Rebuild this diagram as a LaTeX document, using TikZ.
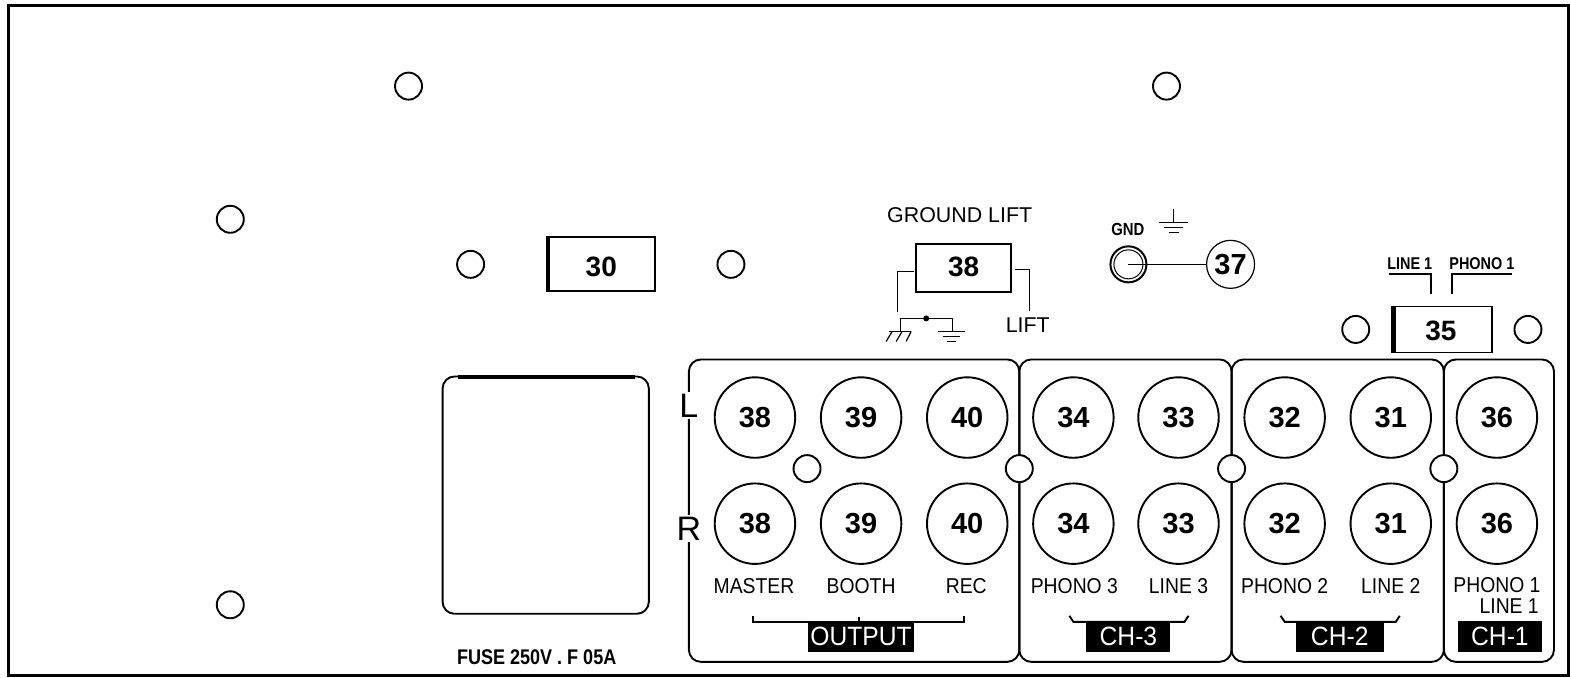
\documentclass[tikz,border=0pt]{standalone}
\usepackage{fontspec}
\usetikzlibrary{calc}
\setmainfont{Liberation Sans}
\newfontfamily\narrowf[FakeStretch=0.9]{Liberation Sans}
\newfontfamily\narrowt[FakeStretch=0.93]{Liberation Sans}
\newfontfamily\narrowb[FakeStretch=0.85]{Liberation Sans Bold}
\newcommand{\nmdown}[2]{\raisebox{0pt}[\dimexpr\height+#1\relax][0pt]{#2}}
\newcommand{\nmup}[2]{\raisebox{0pt}[\height][#1]{#2}}
\begin{document}
\begin{tikzpicture}[x=1.0013pt,y=-1.0013pt,
  ln/.style={draw=black,line width=1.9pt},
  wire/.style={draw=black,line width=1.2pt},
  hole/.style={circle,draw=black,line width=1.9pt,fill=white,minimum size=27pt,inner sep=0pt},
  conn/.style={circle,draw=black,line width=1.9pt,fill=white,minimum size=80.5pt,inner sep=0pt,font=\fontsize{29}{29}\selectfont\bfseries},
  numbox/.style={rectangle,draw=black,line width=1.8pt,fill=white,inner sep=0pt,font=\fontsize{28}{28}\selectfont\bfseries},
  panel/.style={draw=black,line width=1.9pt,rounded corners=12pt},
  small/.style={font=\fontsize{21.5}{21.5}\narrowf,inner sep=0pt},
  inv/.style={fill=black,text=white,font=\fontsize{26.5}{26.5}\narrowt,inner sep=0pt},
  plain/.style={font=\fontsize{21.4}{21.4}\selectfont,inner sep=0pt},
  side/.style={font=\fontsize{34}{34}\selectfont,inner sep=2pt,fill=white},
  thickedge/.style={draw=black,line width=4.5pt}]
\useasboundingbox (0,0) rectangle (1568,677);
\fill[white] (0,0) rectangle (1568,677);
\draw[draw=black,line width=3pt] (8,5) rectangle (1566,675);

% panels
\draw[panel] (688,359) rectangle (1018,661);
\draw[panel] (1018,359) rectangle (1230,661);
\draw[panel] (1230,359) rectangle (1442,661);
\draw[panel] (1442,359) rectangle (1552,661);

% fuse holder
\draw[panel] (442,376) rectangle (648,613);
\draw[draw=black,line width=3.5pt] (457,376.5) -- (634,376.5);

% holes
\foreach \n/\x/\y in {a/408/86,b/1165/86,c/230/219,d/470/264,e/730/264,f/230/604,g/806/468,h/1018/468,i/1230/468,j/1442/468,k/1354/329,l/1526/329}
  \node[hole] (hole\n) at (\x,\y) {};

% connectors
\foreach \x/\lab in {754/38,860/39,966/40,1072/34,1177/33,1283/32,1389/31,1495/36}{
  \node[conn] (L\lab) at (\x,417) {\lab};
  \node[conn] (R\lab) at (\x,523) {\lab};
}

% boxes
\node[numbox,minimum width=107pt,minimum height=54pt] (b30) at (600.5,264) {\nmdown{4pt}{30}};
\draw[thickedge] ($(b30.north west)+(1,0)$) -- ($(b30.south west)+(1,0)$);
\node[numbox,minimum width=95pt,minimum height=48pt] (b38) at (962.5,268) {\nmup{3pt}{38}};
\node[numbox,minimum width=99pt,minimum height=46pt] (b35) at (1441,329) {\nmdown{2pt}{35}\kern4pt};
\draw[thickedge] ($(b35.north west)+(1,0)$) -- ($(b35.south west)+(1,0)$);

% ground lift
\node[plain] (gl) at (958.5,215) {GROUND LIFT};
\node[plain] (lift) at (1026.5,325) {LIFT};
\coordinate (wl1) at (913,271);
\coordinate (wl2) at (896,312);
\coordinate (wr1) at (1014,269);
\coordinate (wr2) at (1028,311);
\draw[wire] (wl1) -| (wl2);
\draw[wire] (wr1) -| (wr2);
\coordinate (gdot) at (925,318);
\coordinate (gc) at (899,318);
\coordinate (gs) at (951,318);
\draw[wire] (899,331) -- (gc) -- (gdot) -- (gs) -- (951,331);
\fill (gdot) circle (3pt);
\draw[wire] (888,331) -- (910,331);
\draw[wire] (891,331) -- (885,341) (901,331) -- (895,341) (910,331) -- (905,341);
\draw[wire] (937,331) -- (964,331) (942,336) -- (959,336) (946,341) -- (955,341);

% GND post
\node[font=\fontsize{17.5}{17.5}\narrowb,inner sep=0pt] (gnd) at (1126.5,229) {GND};
\draw[wire] (1172,209) -- (1172,222);
\draw[wire] (1158,222) -- (1186,222) (1163,227) -- (1181,227) (1167,232) -- (1177,232);
\node[circle,draw=black,line width=2pt,minimum size=36pt,inner sep=0pt] (jack) at (1127,264) {};
\draw[draw=black,line width=1pt] (1127,264) circle (14.5pt);
\node[circle,draw=black,line width=1.2pt,minimum size=48pt,inner sep=0pt,font=\fontsize{29}{29}\selectfont\bfseries] (c37) at (1229,264) {37};
\draw[wire] (jack.center) -- (c37.west);

% LINE 1 / PHONO 1 selector
\node[font=\fontsize{17}{17}\narrowb,inner sep=0pt] (l1) at (1408,263) {LINE 1};
\node[font=\fontsize{17}{17}\narrowb,inner sep=0pt] (p1) at (1480,263) {PHONO 1};
\coordinate (l1a) at (1387,274);
\coordinate (l1b) at (1429,294);
\coordinate (p1a) at (1510,274);
\coordinate (p1b) at (1450,294);
\draw[ln] (l1a) -| (l1b);
\draw[ln] (p1a) -| (p1b);

% side letters
\node[side] (sl) at (688,405) {L};
\node[side] (sr) at (688,528) {R};

% labels
\node[small] (tm) at (753,585) {MASTER};
\node[small] (tb) at (860,585) {BOOTH};
\node[small] (tr) at (965,585) {REC};
\node[small] (tp3) at (1073,585) {PHONO 3};
\node[small] (tl3) at (1177,585) {LINE 3};
\node[small] (tp2) at (1283,585) {PHONO 2};
\node[small] (tl2) at (1389,585) {LINE 2};
\node[small] (tp1) at (1495,584) {PHONO 1};
\node[small,anchor=east] (tl1) at (1537,605) {LINE 1};

% brackets
\draw[ln] (752,615) -- (752,621) -- (963,621) -- (963,615);
\draw[ln] (858,616) -- (858,621);
\draw[ln] (1068,615) -- (1072,621) -- (1183,621) -- (1187,615);
\draw[ln] (1279,615) -- (1283,621) -- (1394,621) -- (1398,615);

% section tags
\node[inv,minimum width=106pt,minimum height=30pt] (to) at (860,636) {OUTPUT};
\node[inv,minimum width=84pt,minimum height=30pt] (t3) at (1127,636) {CH-3};
\node[inv,minimum width=88pt,minimum height=30pt] (t2) at (1338,636) {CH-2};
\node[inv,minimum width=84pt,minimum height=31pt] (t1) at (1498,635.5) {CH-1};

% fuse text
\node[font=\fontsize{21.2}{21.2}\narrowb,inner sep=0pt] (fuse) at (536,656) {FUSE 250V . F 05A};
\end{tikzpicture}
\end{document}
